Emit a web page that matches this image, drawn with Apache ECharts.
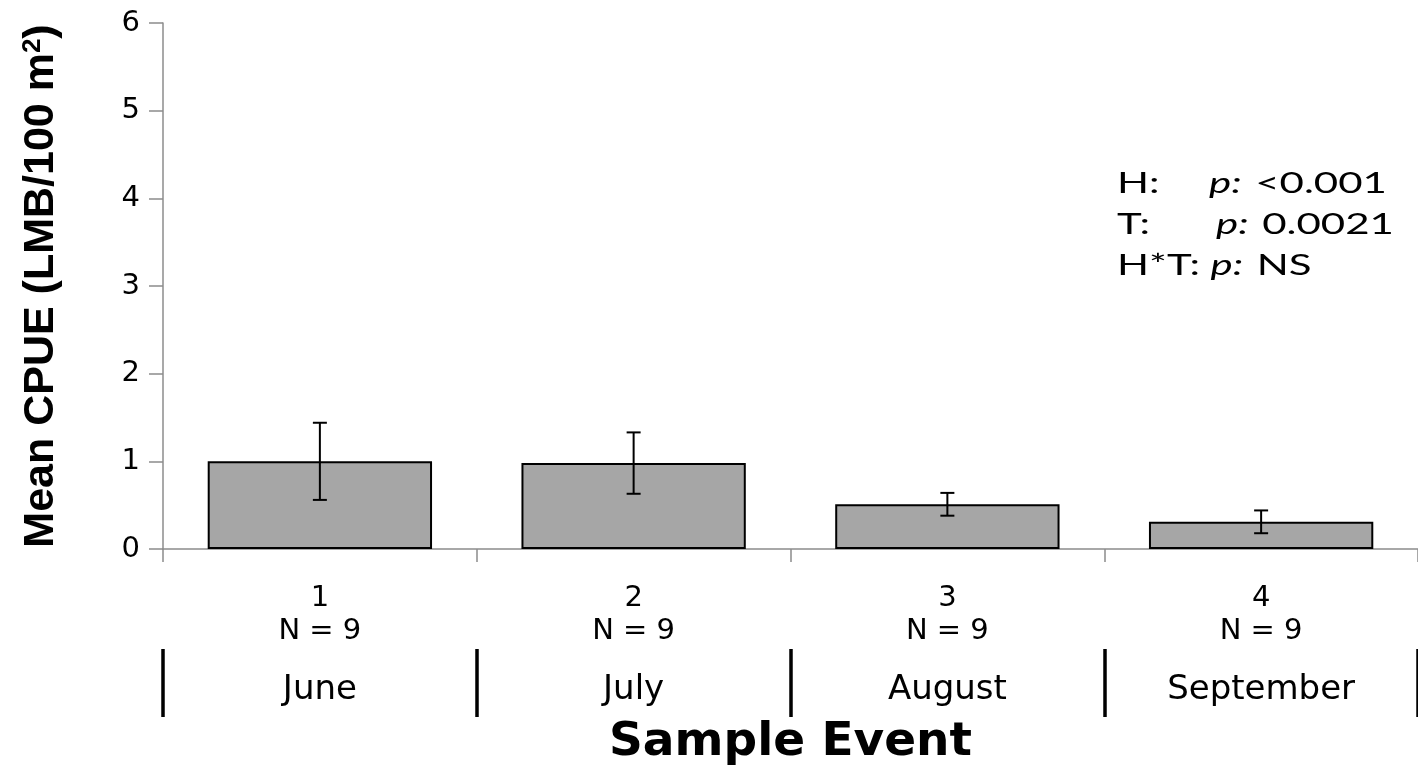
<!DOCTYPE html>
<html><head><meta charset="utf-8">
<script src="https://cdn.jsdelivr.net/npm/echarts@6/dist/echarts.min.js"></script>
<style>html,body{margin:0;padding:0;background:#fff}#c{width:1418px;height:767px}</style>
</head><body><div id="c"></div>
<script>
const eventNums = ['1','2','3','4'];
const sampleSizes = ['N = 9','N = 9','N = 9','N = 9'];
const months = ['June','July','August','September'];
const meanCPUE = [1.00, 0.98, 0.51, 0.31];
const errHalf = [0.44, 0.35, 0.13, 0.13];
const yTicks = [0,1,2,3,4,5,6];

const chart = echarts.init(document.getElementById('c'), null, {renderer:'canvas'});
const errData = meanCPUE.map((v,i)=>[i, v-errHalf[i], v+errHalf[i]]);
const wide = '"DejaVu Sans", Verdana, sans-serif';
const calib = 'Lato, "Open Sans", sans-serif';
const arial = '"Liberation Sans", Arial, sans-serif';

chart.setOption({
  animation:false,
  backgroundColor:'#fff',
  grid:{left:163,right:0,top:23,bottom:218,containLabel:false,outerBoundsMode:'none'},
  xAxis:[{
    type:'category', data:eventNums.map((n,i)=>n+'\n'+sampleSizes[i]),
    axisLine:{lineStyle:{color:'#8c8c8c',width:1.5}},
    axisTick:{show:true,length:13,lineStyle:{color:'#8c8c8c',width:1.5}},
    axisLabel:{color:'#000',fontFamily:wide,fontSize:29,lineHeight:33,margin:33}
  },{
    type:'category', data:months, position:'bottom', offset:100,
    axisLine:{show:false},
    axisTick:{show:true,length:68,lineStyle:{color:'#000',width:3.5}},
    axisLabel:{color:'#000',fontFamily:wide,fontSize:34,margin:24},
    name:'Sample Event', nameLocation:'middle', nameGap:70,
    nameTextStyle:{color:'#000',fontFamily:wide,fontWeight:'bold',fontSize:47}
  }],
  yAxis:{
    type:'value', min:0, max:6, interval:1,
    axisLine:{show:true,lineStyle:{color:'#8c8c8c',width:1.5}},
    axisTick:{show:true,length:14,lineStyle:{color:'#8c8c8c',width:1.5}},
    splitLine:{show:false},
    axisLabel:{color:'#000',fontFamily:wide,fontSize:29,margin:23},
    name:'Mean CPUE (LMB/100 m{sup|2})', nameLocation:'middle', nameGap:100,
    nameTextStyle:{color:'#000',fontFamily:arial,fontWeight:'bold',fontSize:43,
      rich:{sup:{fontFamily:arial,fontWeight:'bold',fontSize:26,verticalAlign:'top',padding:[0,0,16,0]}}}
  },
  series:[{
    type:'bar', data:meanCPUE, xAxisIndex:0, barWidth:'71.5%',
    itemStyle:{color:'#a6a6a6',borderColor:'#000',borderWidth:2}
  },{
    type:'custom', xAxisIndex:0, data:errData, z:10,
    renderItem:function(params, api){
      const x = api.value(0);
      const lo = api.coord([x, api.value(1)]);
      const hi = api.coord([x, api.value(2)]);
      const w = 7;
      const st = {stroke:'#000',lineWidth:2};
      return {type:'group',children:[
        {type:'line',shape:{x1:hi[0],y1:hi[1],x2:lo[0],y2:lo[1]},style:st},
        {type:'line',shape:{x1:hi[0]-w,y1:hi[1],x2:hi[0]+w,y2:hi[1]},style:st},
        {type:'line',shape:{x1:lo[0]-w,y1:lo[1],x2:lo[0]+w,y2:lo[1]},style:st}
      ]};
    }
  }],
  graphic:[{
    type:'text', x:1117, y:163, scaleX:1.5, scaleY:1,
    style:{
      text:'H:{g1| }{i|p:}{s| }<0.001\nT:{g2| }{i|p:}{s| }0.0021\nH*T:{s2| }{i|p:}{s| }NS',
      fill:'#000', font:'28px '+calib, lineHeight:41,
      rich:{i:{fontStyle:'italic',fontFamily:calib,fontSize:28},
            g1:{width:33,fontSize:28},g2:{width:44,fontSize:28},
            s:{width:9,fontSize:28},s2:{width:7,fontSize:28}}
    }
  }]
});
</script></body></html>
